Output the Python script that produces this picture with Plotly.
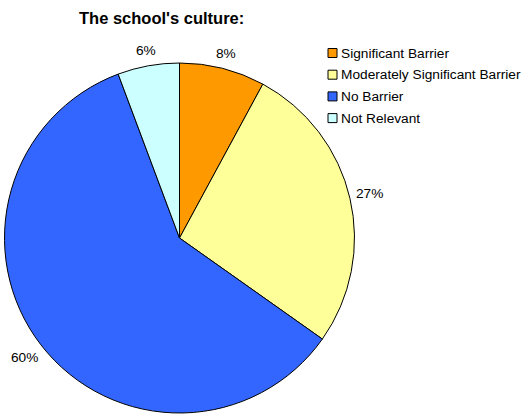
import math
import plotly.graph_objects as go

# Share of responses per barrier category
categories = ["Significant Barrier", "Moderately Significant Barrier", "No Barrier", "Not Relevant"]
shares = [7.9, 26.9, 59.5, 5.7]
colors = ["#FF9900", "#FFFF99", "#3366FF", "#CCFFFF"]

FONT = "Liberation Sans, Arial, sans-serif"
W, H = 524, 416
cx, cy, r = 179.5, 238, 175
TXT = 13.7


def px(x):
    return x / W


def py(y):
    return 1 - y / H


fig = go.Figure(go.Pie(
    labels=categories,
    values=shares,
    sort=False,
    direction="clockwise",
    rotation=0,
    marker=dict(colors=colors, line=dict(color="black", width=1)),
    textinfo="none",
    hoverinfo="label+percent",
    domain=dict(x=[px(cx - r), px(cx + r)], y=[py(cy + r), py(cy - r)]),
    showlegend=False,
))

# Percentage labels just outside each slice, placed at the slice's mid angle
annotations = []
total = sum(shares)
start = 0.0
gap = 7
for v in shares:
    frac = v / total
    mid = (start + frac / 2) * 2 * math.pi
    start += frac
    text = f"{round(frac * 100)}%"
    hw = len(text) * 0.55 * TXT / 2
    hh = 7
    d = r + gap + abs(math.sin(mid)) * hw + abs(math.cos(mid)) * hh
    lx = cx + d * math.sin(mid)
    ly = cy - d * math.cos(mid)
    annotations.append(dict(x=px(lx), y=py(ly), xref="paper", yref="paper",
                            text=text, showarrow=False, xanchor="center", yanchor="middle",
                            font=dict(family=FONT, size=TXT, color="black")))

# Legend: small bordered swatches with category names
shapes = []
leg_x, leg_y0, leg_dy, sw = 328, 53, 21.7, 9
for i, (name, col) in enumerate(zip(categories, colors)):
    yc = leg_y0 + i * leg_dy
    shapes.append(dict(type="rect", xref="paper", yref="paper",
                       x0=px(leg_x), x1=px(leg_x + sw), y0=py(yc + sw / 2), y1=py(yc - sw / 2),
                       fillcolor=col, line=dict(color="black", width=1)))
    annotations.append(dict(x=px(leg_x + sw + 2), y=py(yc), xref="paper", yref="paper",
                            text=name, showarrow=False, xanchor="left", yanchor="middle",
                            font=dict(family=FONT, size=TXT, color="black")))

fig.update_layout(
    width=W, height=H,
    margin=dict(l=0, r=0, t=0, b=0),
    paper_bgcolor="white",
    plot_bgcolor="white",
    font=dict(family=FONT, size=TXT, color="black"),
    title=dict(text="<b>The school's culture:</b>", x=px(79), xanchor="left",
               y=py(18), yanchor="middle", font=dict(size=16.5)),
    annotations=annotations,
    shapes=shapes,
)

fig.write_html("out.html")
